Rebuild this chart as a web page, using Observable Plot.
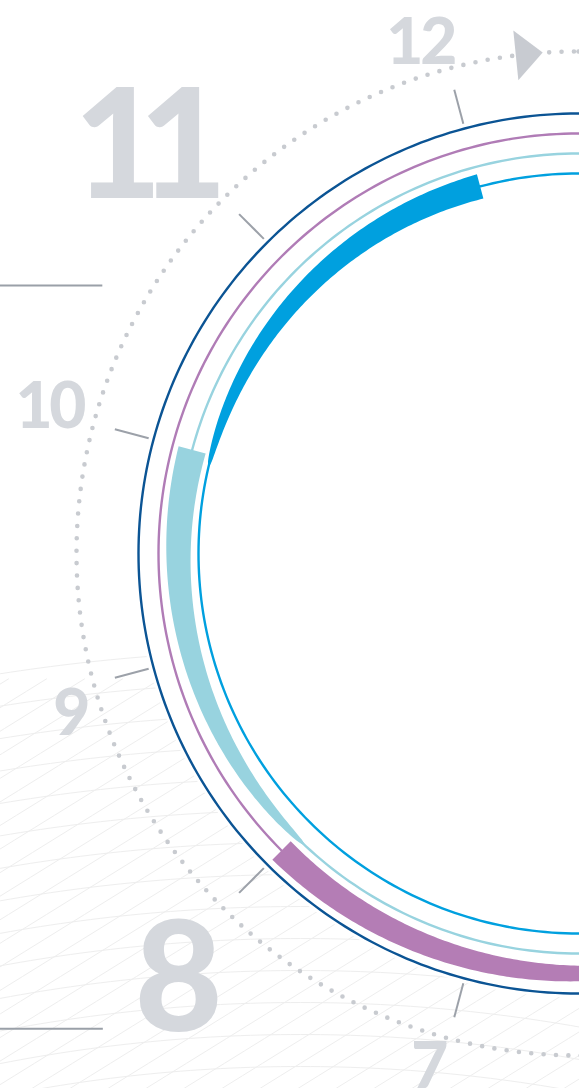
<!DOCTYPE html>
<html><head><meta charset="utf-8">
<script src="https://cdn.jsdelivr.net/npm/d3@7"></script>
<script src="https://cdn.jsdelivr.net/npm/@observablehq/plot@0.6"></script>
<style>
html,body{margin:0;padding:0;background:#fff;overflow:hidden;width:579px;height:1088px}
#chart svg{display:block}
</style></head><body><div id="chart"></div>
<script>
// ---------------- data ----------------
const hours = [12, 11, 10, 9, 8, 7];            // clock labels visible
const bigHours = [11, 8];                        // emphasised labels
const ringNames = ["Dark blue", "Purple", "Light blue", "Blue"];
const ringRadius = [440, 420, 400, 380];         // concentric tracks
const ringColor = ["#0b5494", "#b07cb6", "#98d3df", "#00a0df"];
const barNames = ["Blue", "Light blue", "Purple"];
const barTrack = [380, 400, 420];                // track each bar sits on
const barEndHour = [12, 10, 8];                  // thick end of the bar
const barSpanHours = [2.05, 2.05, 2.33];         // length of the bar
const barWidth = [25, 28, 26];                   // thickness at thick end
const barColor = ["#00a0df", "#98d3df", "#b47db5"];
const dialRadius = 502;                          // dotted dial
const leaderHour = [10.48, 8.0];                 // leader lines end at
const leaderRadius = [546, 672];

// ---------------- layout ----------------
const W = 579, H = 1088, CX = 578, CY = 553;
// where each hour label sits: [degrees counter-clockwise from top, radius]
const labelPolar = {12: [17, 536], 11: [46.2, 593], 10: [74.3, 548], 9: [107.4, 531], 8: [136.6, 582], 7: [163.8, 533]};
const rad = d => d * Math.PI / 180;
const tickDeg = h => h * 30 - 15;                // clock rotated by half an hour
const pt = (r, deg) => ({x: r * Math.sin(rad(deg)), y: -r * Math.cos(rad(deg))});
const circle = (r, step = 1) => d3.range(0, 360 + step, step).map(d => pt(r, d));

// rings
const rings = ringRadius.flatMap((r, i) => circle(r).map(p => ({...p, name: ringNames[i], color: ringColor[i]})));

// bars (tapered arcs)
const bars = barNames.flatMap((name, i) => {
  const e = tickDeg(barEndHour[i]), s = e - barSpanHours[i] * 30;
  const steps = d3.range(s, e, 0.5).concat([e]);
  const w = d => 2 + (barWidth[i] - 2) * Math.pow((d - s) / (e - s), 0.55);
  const outer = steps.map(d => pt(barTrack[i] + w(d) / 2, d));
  const inner = steps.slice().reverse().map(d => pt(barTrack[i] - w(d) / 2, d));
  return outer.concat(inner).map(p => ({...p, name}));
});

// ticks
const ticks = hours.map(h => {
  const a = pt(445, tickDeg(h)), b = pt(480, tickDeg(h));
  return {hour: h, x1: a.x, y1: a.y, x2: b.x, y2: b.y};
});

// labels
const labels = hours.map(h => {
  const big = bigHours.includes(h);
  const size = big ? 152 : 64;
  const [ccw, r] = labelPolar[h];
  const p = pt(r, -ccw);
  return {x: p.x, y: p.y + 0.04 * size, text: String(h), size, big};
});

// arrow on dial
const arrowDeg = -5.8;
const ac = pt(dialRadius, arrowDeg);
const tan = {x: Math.cos(rad(arrowDeg)), y: Math.sin(rad(arrowDeg))};
const nor = {x: -tan.y, y: tan.x};
const arrow = [
  {x: ac.x + tan.x * 15, y: ac.y + tan.y * 15},
  {x: ac.x - tan.x * 12 + nor.x * 25, y: ac.y - tan.y * 12 + nor.y * 25},
  {x: ac.x - tan.x * 12 - nor.x * 25, y: ac.y - tan.y * 12 - nor.y * 25}
];

// leader lines
const leaders = leaderHour.map((h, i) => {
  const p = pt(leaderRadius[i], tickDeg(h));
  return {x1: -CX, x2: p.x, y: p.y};
});

// decorative backdrop texture (wireframe sheet)
const toData = (x, y) => ({x: x - CX, y: y - CY});
const meshA = d3.range(0, 14).flatMap(i => {
  const R = 1950 - i * 32;
  return d3.range(0, W + 10, 10).map(x => ({...toData(x, 2600 - Math.sqrt(R * R - (x - 300) ** 2)), k: "a" + i}));
});
const meshB = d3.range(-900, 560, 38).flatMap(x0 =>
  d3.range(0, 700, 20).map(t => ({...toData(x0 + t, 1100 - t * 0.62), k: "b" + x0}))
).filter(p => p.y + CY >= 636);

const plot = Plot.plot({
  width: W, height: H,
  margin: 0,
  x: {domain: [-CX, W - CX], range: [0, W], axis: null},
  y: {domain: [-CY, H - CY], range: [0, H], axis: null},
  style: {background: "#fff", overflow: "hidden"},
  marks: [
    Plot.line(meshA, {x: "x", y: "y", z: "k", stroke: "#eeeeee", strokeWidth: 1}),
    Plot.line(meshB, {x: "x", y: "y", z: "k", stroke: "#eeeeee", strokeWidth: 1}),
    Plot.line(circle(444), {x: "x", y: "y", fill: "#fff", stroke: "none"}),
    Plot.line(circle(dialRadius, 0.5), {x: "x", y: "y", stroke: "#c8cbd0", strokeWidth: 4.6, strokeLinecap: "round", strokeDasharray: "0,12.4"}),
    Plot.line(arrow, {x: "x", y: "y", fill: "#c8cbd1", stroke: "none"}),
    Plot.ruleY(leaders, {y: "y", x1: "x1", x2: "x2", stroke: "#9aa0a8", strokeWidth: 2}),
    Plot.link(ticks, {x1: "x1", y1: "y1", x2: "x2", y2: "y2", stroke: "#9ca1a9", strokeWidth: 2}),
    Plot.line(rings, {x: "x", y: "y", z: "name", stroke: "color", strokeWidth: 2.4}),
    Plot.line(bars, {x: "x", y: "y", z: "name", fill: d => barColor[barNames.indexOf(d.name)], stroke: "none"}),
    Plot.text(labels, {x: "x", y: "y", text: "text", fontSize: "size", fontWeight: 900, fill: "#d5d8dd", fontFamily: "Lato", textAnchor: "middle", lineAnchor: "middle"})
  ]
});
plot.querySelectorAll("text").forEach(t => {
  const fs = parseFloat(t.getAttribute("font-size")) || 64;
  const ls = (t.textContent === "11" ? -0.15 : -0.05) * fs;
  t.setAttribute("letter-spacing", ls + "px");
  t.setAttribute("dx", (ls / 2) + "px");
});
document.getElementById("chart").appendChild(plot);
</script></body></html>
